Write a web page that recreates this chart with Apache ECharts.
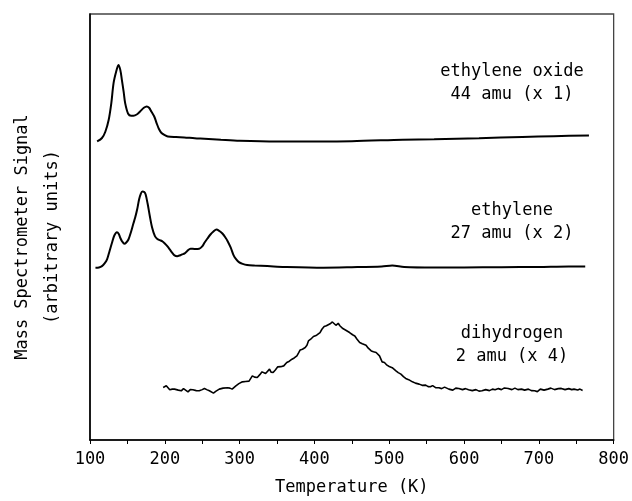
<!DOCTYPE html>
<html>
<head>
<meta charset="utf-8">
<script src="https://cdn.jsdelivr.net/npm/echarts@6/dist/echarts.min.js"></script>
<style>
  html, body { margin: 0; padding: 0; background: #fff; }
  #main { width: 632px; height: 501px; }
</style>
</head>
<body>
<div id="main"></div>
<script>
// temperature (K) and signal (arbitrary units)
var oxideT = [109.5,116,120.5,125,128.5,131.5,135,138,140.5,142.6,145,147,151,155,158,163,167,172,175.8,179,182,186,189,192,195.6,200,204,215,226,240,253,275,300,350,400,450,518,560,620,678,720,767];
var oxideSignal = [299.3,302.7,309,321,337.7,357.7,369.3,376,371,361,349,337.7,327,325,325,326.5,329.3,333,334.3,333,329.3,324,317.7,312,307.7,305.5,304.3,303.7,303.3,302.5,302,301,300,299.3,299.3,299.5,301,301.5,302.5,303.7,304.5,305.3];

var ethyleneT = [107.3,112,116,119.5,122.8,126,129.4,132.5,136,138.5,140.4,143,146,148.5,151.4,155,158,160.3,163,165.6,168,170,172.5,174.4,177,180,183,186.8,190,193.4,197,200,203,206.6,210,213,216.5,220,223,226.5,230,234.4,240,246,250,253,257,261,265,269,273,277,281,284,288,292,295.5,299,304,310,320,337,360,412,450,490,504,520,560,600,650,700,740,762];
var ethyleneSignal = [172.7,173,174.3,177,181,189,197.7,205,208.3,206.5,202.7,199,196.7,198,201,209,217,222.7,231,241,247,249,248.5,246,237,224.3,213,204.3,201.5,200.3,199,197,194.5,191,187.5,185,184.3,185,186,187,189.5,191.7,191.5,191.7,194,197.7,202,206,209,211,209.5,207,203,199.3,193,185,181,178.3,176.5,175.3,174.8,174.3,173.5,172.7,173.2,174,175,173.5,173,173,173.2,173.5,174,174];

var hydrogenT = [197.8,202,206.6,210,213,218,222,225,227.4,231,234,237.5,242,246,250,253,256,259.6,262,265,268.5,272.8,278,284,287,290,295,299,303.7,308,312.6,317,320,323.6,327,330,334.7,337,340,342,344.8,348,351,355,359,363,366.5,370,373,376.6,379,381,384,387.7,390,392,395,398.7,403,407.5,410,413,416,418.5,421,424,426,428.7,431.8,434,438,442,447,451,454,457,460.5,464,469,472,476,479,482.5,487,490.5,493.6,497,500,504,509,512,515.6,519,522,526,531,535,540,544,548.7,552,555,558,562,566.5,570,574,579.7,585,589,593,598,602,606,611,616,620,624,629,634,638,641.5,646,650,654,659,664,668,672,676.8,681,686,690,694.4,698,702,707,712,716,721,726,730,735,740,744,747,752,755,758.5];
var hydrogenSignal = [52.7,54.3,50.3,51,51,50,49.3,51.5,52,48.3,50.5,50.3,49.5,49.3,50.5,51.7,50.5,49.3,48.5,47,49,51,52,52.3,52,51,54.3,56.5,58.3,58.7,59,64.3,63,62.7,65.5,68.3,66.7,68.5,71,68,67.7,70.5,73.3,73.5,74.3,77.7,79,81,82.2,84.3,87.5,90.3,91,92.7,95,99.3,101,103.7,105,107.7,111,113.7,114.5,116,116.5,118.3,117,115,117,114.5,111.7,110,107.7,105.5,104.3,101,97.7,96.5,95,92,89.3,88.5,87.7,84.3,78.3,77.7,75,73.7,72.5,69.3,67.5,66,63.5,61.7,60.5,58.3,57,56,54.8,55,53.5,53.3,54.5,52.5,52.3,51.5,53,51,50,52,51.7,50.5,51.5,50.3,49.5,50.5,49,49.3,50.5,49.5,51,50.3,51.5,50.5,52.2,51.7,50.5,52,50.5,51,50,51,49.5,49.3,48.5,51,50,51,52,50.5,51.5,51.7,50.5,51.5,50.5,51,50.2,51,49.7];

var curveLabels = [
  ['ethylene oxide', '44 amu (x 1)'],
  ['ethylene', '27 amu (x 2)'],
  ['dihydrogen', '2 amu (x 4)']
];

function pairs(xs, ys) {
  var out = [];
  for (var i = 0; i < xs.length; i++) out.push([xs[i], ys[i]]);
  return out;
}

var font = '"DejaVu Sans Mono", monospace';
var labelTop = [72, 211, 334];
var graphics = [];
curveLabels.forEach(function (lines, i) {
  lines.forEach(function (t, j) {
    graphics.push({
      type: 'text',
      style: { text: t, x: 512, y: labelTop[i] + j * 23, textAlign: 'center', textVerticalAlign: 'middle', font: '17px ' + font, fill: '#000' }
    });
  });
});

var chart = echarts.init(document.getElementById('main'));
chart.setOption({
  backgroundColor: '#fff',
  animation: false,
  grid: { left: 88, right: 14, top: 14, bottom: 60, show: true, borderColor: '#444', borderWidth: 1.3 },
  xAxis: {
    type: 'value', min: 100, max: 800, interval: 100,
    name: 'Temperature (K)', nameLocation: 'middle', nameGap: 39,
    nameTextStyle: { fontFamily: font, fontSize: 17, color: '#000' },
    axisLine: { lineStyle: { color: '#000', width: 1.6 } },
    axisTick: { show: true, length: 4, lineStyle: { color: '#000' } },
    minorTick: { show: true, splitNumber: 2, length: 4, lineStyle: { color: '#000' } },
    splitLine: { show: false },
    axisLabel: { fontFamily: font, fontSize: 17, color: '#000', margin: 11 }
  },
  yAxis: {
    type: 'value', min: 0, max: 427,
    name: 'Mass Spectrometer Signal\n(arbitrary units)', nameLocation: 'middle', nameGap: 22,
    nameTextStyle: { fontFamily: font, fontSize: 17, color: '#000', lineHeight: 30, padding: [0, 20, 0, 0] },
    axisLine: { show: true, lineStyle: { color: '#000', width: 1.6 } },
    axisTick: { show: false },
    axisLabel: { show: false },
    splitLine: { show: false }
  },
  graphic: graphics,
  series: [
    { type: 'line', data: pairs(oxideT, oxideSignal), showSymbol: false, smooth: 0.3, lineStyle: { color: '#000', width: 2 } },
    { type: 'line', data: pairs(ethyleneT, ethyleneSignal), showSymbol: false, smooth: 0.3, lineStyle: { color: '#000', width: 2 } },
    { type: 'line', data: pairs(hydrogenT, hydrogenSignal), showSymbol: false, lineStyle: { color: '#000', width: 1.6 } }
  ]
});
</script>
</body>
</html>
